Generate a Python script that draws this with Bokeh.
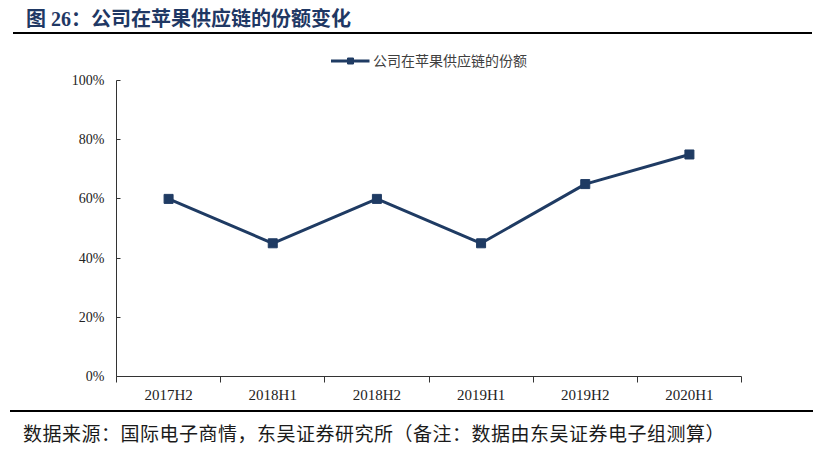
from bokeh.plotting import figure
from bokeh.models import Div, FixedTicker, NumeralTickFormatter, Legend, LegendItem, ColumnDataSource
from bokeh.layouts import column
from bokeh.embed import file_html
from bokeh.resources import INLINE

# data
periods = ["2017H2", "2018H1", "2018H2", "2019H1", "2019H2", "2020H1"]
share = [0.60, 0.45, 0.60, 0.45, 0.65, 0.75]
y_ticks = [0, 0.2, 0.4, 0.6, 0.8, 1.0]

title_text = "图 26：公司在苹果供应链的份额变化"
series_name = "公司在苹果供应链的份额"
source_text = "数据来源：国际电子商情，东吴证券研究所（备注：数据由东吴证券电子组测算）"

navy = "#1F3B63"
serif = "'Liberation Serif', 'Noto Sans CJK SC'"

# category slots: points sit in the middle, ticks on the boundaries
centers = [i + 0.5 for i in range(len(periods))]
bounds = list(range(len(periods) + 1))

src = ColumnDataSource(dict(x=centers, y=share))

title_div = Div(
    text=f'<div style="margin-left:8px;margin-top:4px;width:799px;height:25px;border-bottom:2px solid #000;'
         f'padding-left:13px;box-sizing:border-box;font-family:{serif};font-weight:bold;'
         f'font-size:20px;line-height:20px;color:#1F3864;white-space:nowrap;">{title_text}</div>',
    width=819, height=31)

# the frame reaches up to hold the legend; the axis line stops at 100%
p = figure(width=819, height=364, x_range=(0, len(periods)), y_range=(0, 1.108),
           output_backend="svg", toolbar_location=None,
           min_border_left=116, min_border_right=78, min_border_top=7, min_border_bottom=29)
p.outline_line_color = None
p.xgrid.grid_line_color = None
p.ygrid.grid_line_color = None

ln = p.line("x", "y", source=src, line_color=navy, line_width=3)
pts = p.scatter("x", "y", source=src, marker="square", size=9, fill_color=navy, line_color=navy)

# x axis
p.xaxis.ticker = FixedTicker(ticks=centers, minor_ticks=bounds)
p.xaxis.major_label_overrides = {c: lab for c, lab in zip(centers, periods)}
p.xaxis.major_tick_line_color = None
p.xaxis.minor_tick_in = 0
p.xaxis.minor_tick_out = 6
p.xaxis.minor_tick_line_color = "#333333"
p.xaxis.axis_line_color = "#333333"
p.xaxis.major_label_standoff = 4
p.xaxis.major_label_text_font = "Liberation Serif"
p.xaxis.major_label_text_font_size = "15px"
p.xaxis.major_label_text_color = "#222222"

# y axis
p.yaxis.bounds = (0, 1)
p.yaxis.ticker = FixedTicker(ticks=y_ticks, minor_ticks=[])
p.yaxis.formatter = NumeralTickFormatter(format="0%")
p.yaxis.major_tick_in = 4
p.yaxis.major_tick_out = 0
p.yaxis.major_tick_line_color = "#333333"
p.yaxis.axis_line_color = "#333333"
p.yaxis.major_label_standoff = 12
p.yaxis.major_label_text_font = "Liberation Serif"
p.yaxis.major_label_text_font_size = "14px"
p.yaxis.major_label_text_color = "#222222"

legend = Legend(items=[LegendItem(label=series_name, renderers=[ln, pts])],
                location="top_center", orientation="horizontal",
                glyph_width=39, glyph_height=15, label_height=15, label_standoff=4,
                padding=4, margin=2, border_line_color=None, background_fill_alpha=0,
                label_text_font="Noto Sans CJK SC", label_text_font_size="14px",
                label_text_color="#404040")
p.add_layout(legend, "center")

footer_div = Div(
    text=f'<div style="margin-left:5px;width:803px;height:44px;border-top:2px solid #000;'
         f'padding-left:13px;padding-top:11px;box-sizing:border-box;'
         f'font-family:\'Noto Sans CJK SC\';font-size:19px;line-height:20px;color:#1a1a1a;'
         f'letter-spacing:0.5px;white-space:nowrap;">{source_text}</div>',
    width=819, height=46)

layout = column(title_div, p, footer_div)
open("out.html", "w").write(file_html(layout, INLINE))
